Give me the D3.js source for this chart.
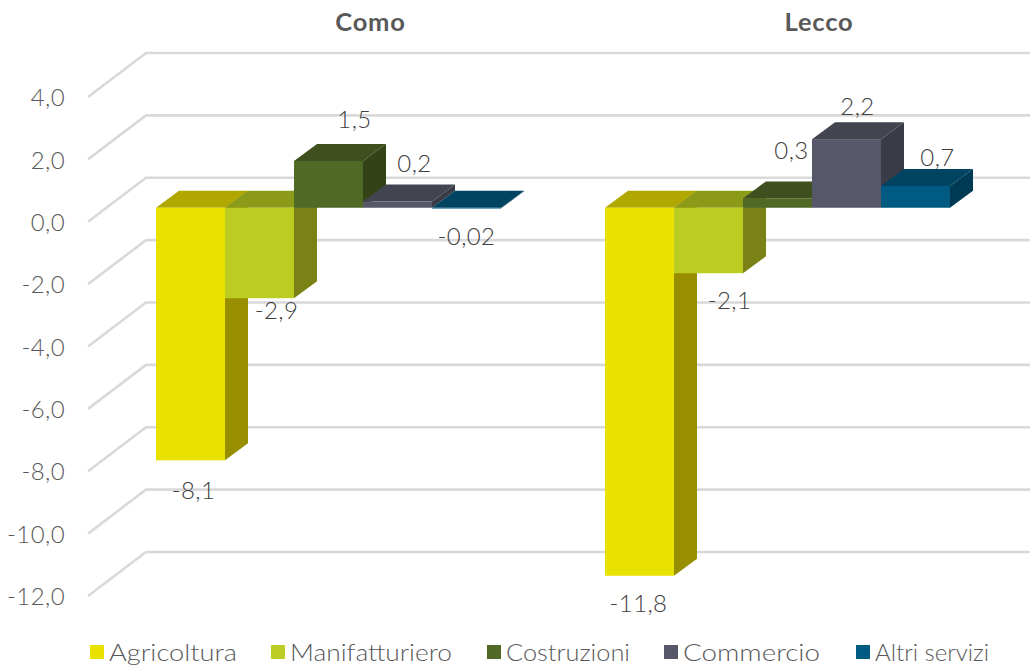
<!DOCTYPE html>
<html><head><meta charset="utf-8">
<script src="https://cdn.jsdelivr.net/npm/d3@7/dist/d3.min.js"></script>
<style>html,body{margin:0;padding:0;background:#fff}svg{display:block}text{font-family:Lato,"Open Sans",sans-serif}</style>
</head><body><svg id="c" width="1030" height="666"></svg>
<script>
const provinces = ["Como","Lecco"];
const sectors = ["Agricoltura","Manifatturiero","Costruzioni","Commercio","Altri servizi"];
const comoValues = [-8.1,-2.9,1.5,0.2,-0.02];
const leccoValues = [-11.8,-2.1,0.3,2.2,0.7];
const valueLabelsComo = ["-8,1","-2,9","1,5","0,2","-0,02"];
const valueLabelsLecco = ["-11,8","-2,1","0,3","2,2","0,7"];
const tickValues = [4,2,0,-2,-4,-6,-8,-10,-12];
const frontColors = ["#E9E100","#BBCD23","#506A26","#565869","#005A82"];
const topColors = ["#B0A800","#8C9A1A","#3F501E","#424450","#004462"];
const sideColors = ["#978F00","#7A8215","#344218","#393B46","#003A55"];

const svg = d3.select("#c");
const W = 1030, H = 666;
// 3D projection parameters
const wall = {dx:58, dy:-44};
const barDepth = {dx:23, dy:-17};
const barShift = {dx:16, dy:-14};
const y = d3.scaleLinear().domain([4,-12]).range([97,596]);
const x = d3.scaleBand().domain(provinces).range([88,986]);
const s = d3.scaleBand().domain(d3.range(sectors.length)).range([0,345]);

// walls and gridlines, built from the axis
const axis = d3.axisLeft(y).tickValues(tickValues).tickSize(0).tickPadding(23)
  .tickFormat(d => d3.format(".1f")(d).replace(".",",").replace("\u2212","-"));
const ag = svg.append("g").attr("transform","translate(88,1)").call(axis);
ag.select(".domain").remove();
ag.selectAll("text").attr("font-size",24).attr("font-weight",300).attr("fill","#595959").attr("font-family","Lato").attr("dy","0.32em").style("letter-spacing","0.4px");
const grid = svg.insert("g","g");
grid.selectAll("path").data(tickValues).join("path")
  .attr("d", v => d3.line()([[88,y(v)],[88+wall.dx,y(v)+wall.dy],[W,y(v)+wall.dy]]))
  .attr("fill","none").attr("stroke","#D9D9D9").attr("stroke-width",2.6);

// bars
const labelNudge = [[[3,30],[17,12],[26,-41],[17,-38],[0,28]],[[-1,28],[21,27],[14,-48],[11,-33],[22,-28]]];
const poly = pts => "M"+pts.map(p=>p.join(",")).join("L")+"Z";
[comoValues,leccoValues].forEach((vals,pi)=>{
  const x0 = x(provinces[pi]) + (x.bandwidth()-s.step()*5)/2 + barShift.dx;
  const g = svg.append("g");
  vals.forEach((v,i)=>{
    const L = x0 + s(i), R = L + s.bandwidth();
    const a = y(0)+barShift.dy, b = y(v)+barShift.dy;
    const t = Math.min(a,b), u = Math.max(a,b);
    const {dx,dy} = barDepth;
    g.append("path").attr("fill",sideColors[i]).attr("d",poly([[R,t],[R+dx,t+dy],[R+dx,u+dy],[R,u]]));
    g.append("path").attr("fill",topColors[i]).attr("d",poly([[L,t],[L+dx,t+dy],[R+dx,t+dy],[R,t]]));
    g.append("rect").attr("x",L).attr("y",t).attr("width",R-L).attr("height",Math.max(u-t,.8)).attr("fill",frontColors[i]);
  });
  const texts = pi===0?valueLabelsComo:valueLabelsLecco;
  vals.forEach((v,i)=>{
    const cx = x0 + s(i) + s.bandwidth()/2, ey = y(v)+barShift.dy;
    g.append("text").attr("x",cx+labelNudge[pi][i][0]).attr("y",ey+labelNudge[pi][i][1])
      .attr("dy","0.35em").attr("text-anchor","middle").attr("font-size",24).attr("font-weight",300).attr("fill","#404040")
      .style("letter-spacing","0.4px").text(texts[i]);
  });
  svg.append("text").attr("x",[370.5,819][pi]).attr("y",31)
    .attr("text-anchor","middle").attr("font-size",25.5).attr("font-weight",700).attr("fill","#595959")
    .style("letter-spacing","0.8px").text(provinces[pi]);
});

// legend
const legendX = [90,271,487,664,856];
const legendTextWidths = [128,162,124,137,114];
const lg = svg.append("g").selectAll("g").data(sectors).join("g")
  .attr("transform",(d,i)=>`translate(${legendX[i]},645)`);
lg.append("rect").attr("width",14).attr("height",14).attr("fill",(d,i)=>frontColors[i]);
lg.append("text").attr("x",19).attr("y",15.5).attr("font-size",24).attr("font-weight",300).attr("fill","#595959")
  .attr("textLength",(d,i)=>legendTextWidths[i]).attr("lengthAdjust","spacingAndGlyphs").text(d=>d);
</script></body></html>
